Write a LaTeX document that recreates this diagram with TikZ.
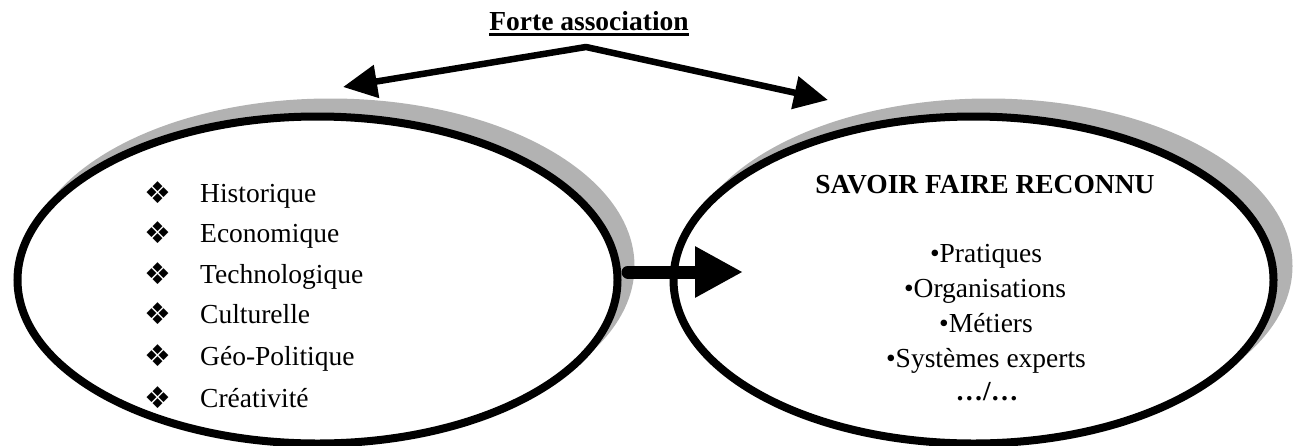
\documentclass[tikz,border=0pt]{standalone}
\usepackage{fontspec}
\setmainfont{Liberation Serif}
\newfontfamily\symfont{DejaVu Sans}
\usetikzlibrary{shapes.geometric,arrows.meta}
\definecolor{shadowgray}{RGB}{178,178,178}
\begin{document}
\begin{tikzpicture}[x=1pt,y=-1pt,
  shadowell/.style={ellipse, fill=shadowgray, draw=none, inner sep=0pt,
    minimum width=608pt, minimum height=335pt},
  mainell/.style={ellipse, draw=black, fill=white, line width=8pt, inner sep=0pt,
    minimum width=600pt, minimum height=327pt},
  txt/.style={inner sep=0pt, font=\fontsize{27.5}{30}\selectfont},
  btxt/.style={inner sep=0pt, font=\bfseries\fontsize{27.5}{30}\selectfont},
  sym/.style={inner sep=0pt, font=\symfont\fontsize{30}{32}\selectfont},
  thinarrow/.style={line width=6.5pt, line join=round, {Triangle[length=34pt,width=32pt]}-{Triangle[length=34pt,width=32pt]}},
  bigarrow/.style={line width=13pt, line cap=round, -{Triangle[length=48pt,width=48pt]}}]
\useasboundingbox (0,0) rectangle (1298,445);
% shadows
\node[shadowell] (Ls) at (330.5,266) {};
\node[shadowell] (Rs) at (988.5,266) {};
% ellipses
\node[mainell] (L) at (317.5,280) {};
\node[mainell] (R) at (973.5,280) {};
% title
\node[btxt, anchor=base] (title) at (589,30) {Forte association};
\draw[line width=2.5pt] ([yshift=-4.5pt]title.base west) -- ([yshift=-4.5pt]title.base east);
% top arrows
\coordinate (apex) at (586,47);
\coordinate (tipL) at (343,87);
\coordinate (tipR) at (828,100);
\draw[thinarrow] (tipL) -- (apex) -- (tipR);
% middle arrow
\coordinate (mstart) at (628,272);
\coordinate (mtip) at (743,272);
\draw[bigarrow] (mstart) -- (mtip);
% left list
\foreach \n/\t/\y in {h/Historique/202, e/Economique/242, te/Technologique/283, c/Culturelle/323, g/Géo-Politique/365, cr/Créativité/407}{
  \node[sym] (b\n) at (158,\y-9) {❖};
  \node[txt, anchor=base west] (t\n) at (200,\y) {\t};
}
% right list
\node[btxt, anchor=base] (head) at (985,193) {SAVOIR FAIRE RECONNU};
\node[txt, anchor=base] (r1) at (986,262) {•Pratiques};
\node[txt, anchor=base] (r2) at (985,297) {•Organisations};
\node[txt, anchor=base] (r3) at (986,332) {•Métiers};
\node[txt, anchor=base] (r4) at (986,367) {•Systèmes experts};
\node[btxt, anchor=base] (r5) at (987,400) {…/…};
\end{tikzpicture}
\end{document}
